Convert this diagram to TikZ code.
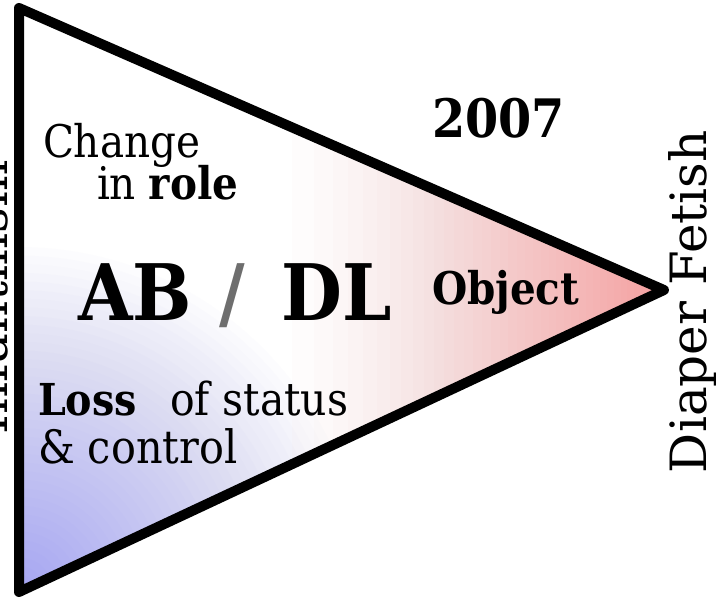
\documentclass[tikz,border=0pt]{standalone}
\usepackage{fontspec}
\setmainfont{DejaVu Serif Condensed}
\newfontfamily\widefont{DejaVu Serif}
\definecolor{tipred}{RGB}{244,160,160}
\definecolor{cornerblue}{RGB}{166,166,242}
\definecolor{slashgray}{RGB}{110,110,110}
\tikzset{
  lbl/.style={anchor=base west, inner sep=0pt, outer sep=0pt, text=black},
  outline/.style={line width=10pt, line join=round, draw=black}
}
\begin{document}
\begin{tikzpicture}[x=1pt,y=-1pt]
\useasboundingbox (0,0) rectangle (716,599);
\coordinate (tl) at (19,8);
\coordinate (bl) at (19,592);
\coordinate (tip) at (664,290);
\begin{scope}
  \clip (tl) -- (tip) -- (bl) -- cycle;
  \fill[white] (0,0) rectangle (716,599);
  % red: eased from x=250 (none) to x=660 (full)
  \foreach \j [evaluate=\j as \op using 1/\j, evaluate=\j as \xx using 250+410*((41-\j)/40)^(0.62)] in {40,39,...,1}
    \fill[tipred, fill opacity=\op] (\xx,0) rectangle (720,599);
  % blue: radial from bottom-left corner
  \foreach \j [evaluate=\j as \op using 0.95/\j, evaluate=\j as \rr using 345*\j/40] in {40,39,...,1}
    \fill[cornerblue, fill opacity=\op] (bl) circle (\rr);
\end{scope}
\draw[outline] (tl) -- (tip) -- (bl) -- cycle;
\node[lbl, font=\bfseries\fontsize{53}{53}\selectfont] (year) at (432,138) {2007};
\node[lbl, font=\fontsize{45}{45}\selectfont] (change) at (43,158) {Change};
\node[lbl, font=\fontsize{45}{45}\selectfont] (role) at (97,200) {in \textbf{role}};
\node[lbl, font=\bfseries\fontsize{78}{78}\selectfont] (abdl) at (78,320) {AB\hspace{28pt}{\color{slashgray}/}\hspace{36pt}DL};
\node[lbl, font=\bfseries\fontsize{45}{45}\selectfont] (object) at (432,305) {Object};
\node[lbl, font=\bfseries\fontsize{44}{44}\selectfont] (loss) at (38,415) {Loss};
\node[lbl, font=\fontsize{45.5}{45.5}\selectfont] (status) at (170,415) {of status};
\node[lbl, font=\fontsize{46}{46}\selectfont] (control) at (38,463) {\& control};
\node[lbl, rotate=90, font=\widefont\fontsize{50}{50}\selectfont] (diaper) at (706,473) {Diaper Fetish};
\node[lbl, rotate=90, font=\widefont\fontsize{50}{50}\selectfont] (infant) at (7,434) {Infantilism};
\end{tikzpicture}
\end{document}
